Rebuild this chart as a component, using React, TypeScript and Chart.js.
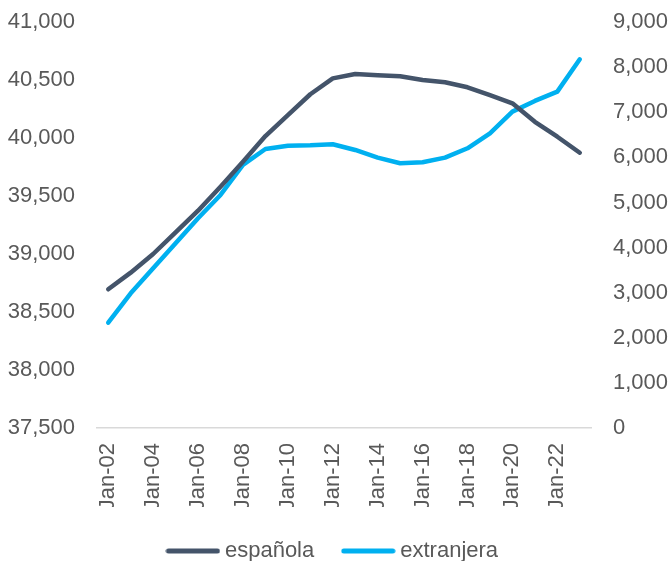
import React, { useEffect, useRef } from "react";
import { Chart, registerables } from "chart.js";

Chart.register(...registerables);

const categories = [
  "Jan-02", "Jan-03", "Jan-04", "Jan-05", "Jan-06", "Jan-07", "Jan-08", "Jan-09",
  "Jan-10", "Jan-11", "Jan-12", "Jan-13", "Jan-14", "Jan-15", "Jan-16", "Jan-17",
  "Jan-18", "Jan-19", "Jan-20", "Jan-21", "Jan-22", "Jan-23",
];

const espanola = [
  38696, 38839, 39000, 39187, 39373, 39580, 39796, 40017, 40198, 40377, 40514,
  40552, 40540, 40532, 40500, 40480, 40437, 40370, 40299, 40140, 40011, 39873,
];

const extranjera = [
  2335, 2986, 3540, 4095, 4649, 5166, 5831, 6185, 6259, 6267, 6290,
  6163, 5995, 5868, 5890, 5993, 6201, 6533, 7013, 7250, 7456, 8174,
];

const seriesNames = ["española", "extranjera"];
const seriesColors = ["#44546A", "#00B0F0"];

const FONT = "'Liberation Sans', Arial, sans-serif";
const TEXT = "#595959";

function makeSwatch(color: string): HTMLCanvasElement {
  const c = document.createElement("canvas");
  c.width = 55;
  c.height = 6;
  const g = c.getContext("2d")!;
  g.strokeStyle = color;
  g.lineWidth = 5;
  g.lineCap = "round";
  g.beginPath();
  g.moveTo(3, 3);
  g.lineTo(52, 3);
  g.stroke();
  return c;
}

export default function App() {
  const ref = useRef<HTMLCanvasElement | null>(null);

  useEffect(() => {
    if (!ref.current) return;
    const swatches = seriesColors.map(makeSwatch);
    const chart = new Chart(ref.current, {
      type: "line",
      data: {
        labels: categories,
        datasets: [
          {
            label: seriesNames[0],
            data: espanola,
            borderColor: seriesColors[0],
            backgroundColor: seriesColors[0],
            borderWidth: 4.5,
            pointRadius: 0,
            borderCapStyle: "round",
            borderJoinStyle: "round",
            yAxisID: "y",
            tension: 0,
          },
          {
            label: seriesNames[1],
            data: extranjera,
            borderColor: seriesColors[1],
            backgroundColor: seriesColors[1],
            borderWidth: 4.5,
            pointRadius: 0,
            borderCapStyle: "round",
            borderJoinStyle: "round",
            yAxisID: "y1",
            tension: 0,
          },
        ],
      },
      options: {
        animation: false,
        responsive: true,
        maintainAspectRatio: false,
        layout: { padding: { top: 22, left: 0, right: 0, bottom: 0 } },
        font: { family: FONT, size: 22 },
        plugins: {
          tooltip: { enabled: false },
          legend: {
            position: "bottom",
            labels: {
              color: TEXT,
              font: { family: FONT, size: 22 },
              usePointStyle: true,
              pointStyleWidth: 42,
              boxHeight: 6,
              padding: 33,
              generateLabels: (c: any) =>
                (Chart.defaults.plugins.legend.labels as any)
                  .generateLabels(c)
                  .map((l: any, i: number) => ({ ...l, pointStyle: swatches[i], lineWidth: 0 })),
            },
          },
        },
        scales: {
          x: {
            offset: true,
            grid: { display: false, drawTicks: false },
            border: { display: true, color: "#D9D9D9", width: 1.5 },
            ticks: {
              color: TEXT,
              font: { family: FONT, size: 22 },
              autoSkip: false,
              minRotation: 90,
              maxRotation: 90,
              padding: 15,
              callback: function (this: any, value: any, index: number) {
                return index % 2 === 0 ? this.getLabelForValue(value) : "";
              },
            },
            afterFit: (s: any) => {
              s.height = 79;
            },
          },
          y: {
            position: "left",
            min: 37500,
            max: 41000,
            grid: { display: false, drawTicks: false },
            border: { display: false },
            ticks: {
              stepSize: 500,
              color: TEXT,
              font: { family: FONT, size: 22 },
              padding: 22,
            },
            afterFit: (s: any) => {
              s.width = 97;
              s.paddingTop = 0;
              s.paddingBottom = 0;
            },
          },
          y1: {
            position: "right",
            min: 0,
            max: 9000,
            grid: { display: false, drawTicks: false },
            border: { display: false },
            ticks: {
              stepSize: 1000,
              color: TEXT,
              font: { family: FONT, size: 22 },
              padding: 22,
            },
            afterFit: (s: any) => {
              s.width = 79;
              s.paddingTop = 0;
              s.paddingBottom = 0;
            },
          },
        },
      },
    } as any);
    return () => chart.destroy();
  }, []);

  return (
    <div
      style={{
        position: "fixed",
        left: 0,
        top: 0,
        width: 670,
        height: 561,
        overflow: "hidden",
        background: "#fff",
      }}
    >
      <div style={{ position: "relative", width: 670, height: 572 }}>
        <canvas ref={ref} />
      </div>
    </div>
  );
}
